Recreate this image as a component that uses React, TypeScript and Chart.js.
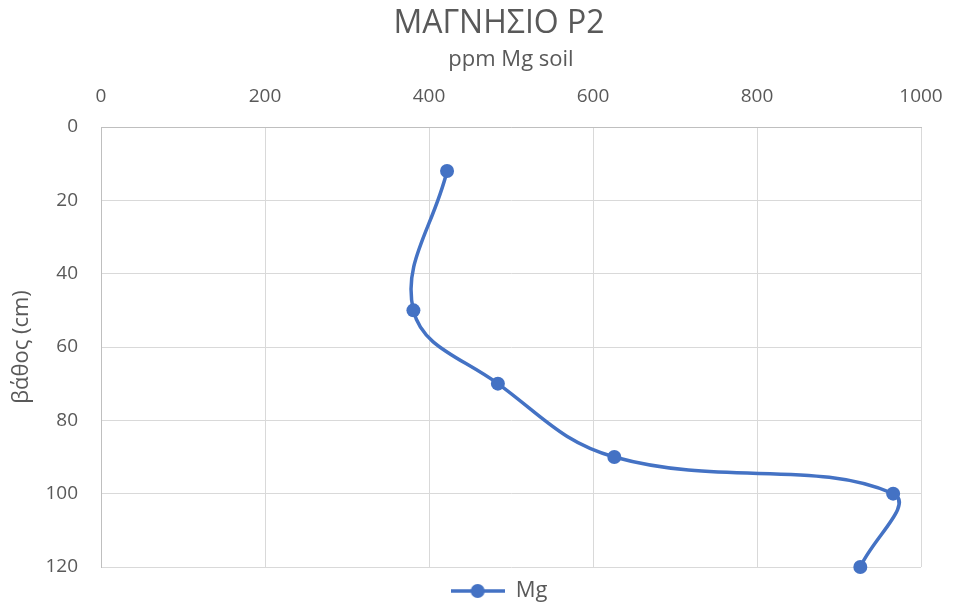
import React, { useEffect, useRef } from "react";
import { Chart, registerables } from "chart.js";

Chart.register(...registerables);

const chartTitle = "ΜΑΓΝΗΣΙΟ P2";
const xAxisTitle = "ppm Mg soil";
const yAxisTitle = "βάθος (cm)";
const seriesName = "Mg";
const depths = [12, 50, 70, 90, 100, 120];
const mgValues = [422, 381, 484, 626, 966, 926];
const xMin = 0;
const xMax = 1000;
const xStep = 200;
const yMin = 0;
const yMax = 120;
const yStep = 20;

const BLUE = "#4472C4";
const TEXT = "#595959";
const GRID = "#d9d9d9";
const FONT = "'Open Sans', 'Noto Sans', sans-serif";

function makeLegendMarker(): HTMLCanvasElement {
  const c = document.createElement("canvas");
  c.width = 54;
  c.height = 16;
  const ctx = c.getContext("2d")!;
  ctx.strokeStyle = BLUE;
  ctx.lineWidth = 3.5;
  ctx.beginPath();
  ctx.moveTo(0, 8);
  ctx.lineTo(54, 8);
  ctx.stroke();
  ctx.fillStyle = BLUE;
  ctx.beginPath();
  ctx.arc(27, 8, 7, 0, Math.PI * 2);
  ctx.fill();
  return c;
}

// Excel centres the title and legend over a slightly wider band than the plot.
const centerBand = {
  id: "centerBand",
  afterLayout(chart: any) {
    const left = chart.chartArea.left - 24;
    const right = chart.chartArea.right;
    if (chart.titleBlock) {
      chart.titleBlock.left = left;
      chart.titleBlock.right = right;
    }
    if (chart.legend) {
      chart.legend.left = left;
      chart.legend.right = right;
    }
  },
};

export default function App() {
  const canvasRef = useRef<HTMLCanvasElement | null>(null);

  useEffect(() => {
    if (!canvasRef.current) return;
    const points = depths.map((d, i) => ({ x: mgValues[i], y: d }));
    const marker = makeLegendMarker();
    const chart = new Chart(canvasRef.current, {
      type: "line",
      data: {
        datasets: [
          {
            label: seriesName,
            data: points,
            borderColor: BLUE,
            backgroundColor: BLUE,
            borderWidth: 3.5,
            pointRadius: 7,
            pointHoverRadius: 7,
            pointBackgroundColor: BLUE,
            pointBorderColor: BLUE,
            pointBorderWidth: 0,
            tension: 0.4,
            fill: false,
            clip: false,
          },
        ],
      },
      options: {
        animation: false,
        responsive: false,
        maintainAspectRatio: false,
        layout: { padding: { left: 0, right: 32, top: 0, bottom: -6 } },
        plugins: {
          tooltip: { enabled: false },
          title: {
            display: true,
            text: chartTitle,
            color: TEXT,
            font: { family: FONT, size: 32, weight: "normal", lineHeight: 1.2 },
            padding: { top: 5, bottom: 0 },
          },
          legend: {
            display: true,
            position: "bottom",
            labels: {
              usePointStyle: true,
              pointStyle: marker as any,
              pointStyleWidth: 54,
              color: TEXT,
              padding: 13,
              font: { family: FONT, size: 22 },
            },
          },
        },
        scales: {
          x: {
            type: "linear",
            position: "top",
            min: xMin,
            max: xMax,
            ticks: {
              stepSize: xStep,
              color: TEXT,
              padding: 18.6,
              font: { family: FONT, size: 19 },
              callback: (v: any) => String(v),
            },
            grid: { color: GRID, lineWidth: 1, drawTicks: false },
            border: { display: true, color: "#bfbfbf", width: 1 },
            title: {
              display: true,
              text: xAxisTitle,
              color: TEXT,
              font: { family: FONT, size: 22, lineHeight: 1.2 },
              padding: { top: 3.4, bottom: 0 },
            },
            afterFit: (scale: any) => {
              scale.height = 127 - 43.4;
              scale.paddingLeft = 0;
              scale.paddingRight = 0;
            },
          },
          y: {
            type: "linear",
            position: "left",
            reverse: true,
            min: yMin,
            max: yMax,
            ticks: {
              stepSize: yStep,
              color: TEXT,
              padding: 23,
              font: { family: FONT, size: 19 },
              callback: (v: any) => String(v),
            },
            grid: { color: GRID, lineWidth: 1, drawTicks: false },
            border: { display: true, color: "#bfbfbf", width: 1 },
            title: {
              display: true,
              text: yAxisTitle,
              color: TEXT,
              font: { family: FONT, size: 22, lineHeight: 1.2 },
              padding: { top: 8.8, bottom: 0 },
            },
            afterFit: (scale: any) => {
              scale.width = 101;
              scale.paddingTop = 0;
              scale.paddingBottom = 0;
            },
          },
        },
      } as any,
      plugins: [centerBand],
    });
    return () => chart.destroy();
  }, []);

  return (
    <div
      style={{
        position: "fixed",
        left: 0,
        top: 0,
        width: 953,
        height: 606,
        background: "#ffffff",
        overflow: "hidden",
      }}
    >
      <canvas ref={canvasRef} width={953} height={606} style={{ display: "block", width: 953, height: 606 }} />
    </div>
  );
}
